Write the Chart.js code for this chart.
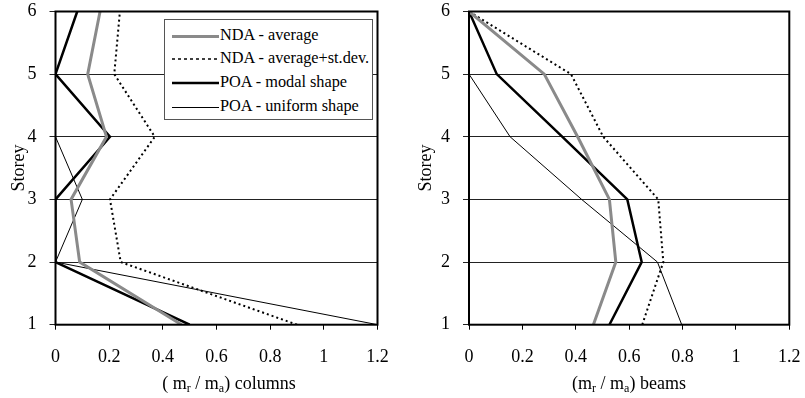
<!DOCTYPE html>
<html><head><meta charset="utf-8">
<script src="https://cdn.jsdelivr.net/npm/chart.js@4/dist/chart.umd.min.js"></script>
<style>
body{margin:0;width:805px;height:398px;position:relative;background:#fff;overflow:hidden;font-family:"Liberation Serif","Times New Roman",serif;color:#000;}
.wrap{position:absolute;top:0;height:398px;}
.xt{position:absolute;top:373px;font-size:18px;white-space:nowrap;transform:translateX(-50%);line-height:20px;}
.xt sub{font-size:12px;vertical-align:-3px;line-height:0;}
#legend{position:absolute;left:164px;top:19px;width:207px;height:99px;border:1px solid #555;background:#fff;font-size:16.3px;}
.row{position:absolute;left:7px;height:20px;line-height:20px;white-space:nowrap;}
.row svg{vertical-align:middle;margin-right:1px;}
</style></head>
<body>
<div class="wrap" style="left:0;width:400px"><canvas id="c1" width="400" height="398"></canvas></div>
<div class="wrap" style="left:400px;width:405px"><canvas id="c2" width="405" height="398"></canvas></div>
<div class="xt" style="left:229px">( m<sub>r</sub> / m<sub>a</sub>) columns</div>
<div class="xt" style="left:629px">(m<sub>r</sub> / m<sub>a</sub>) beams</div>
<div id="legend"></div>
<script>
// Storey levels
const storeys = [1, 2, 3, 4, 5, 6];
const seriesNames = ["NDA - average", "NDA - average+st.dev.", "POA - modal shape", "POA - uniform shape"];
// Columns (left chart), values per storey 1..6
const colNdaAvg = [0.47, 0.09, 0.058, 0.19, 0.12, 0.166];
const colNdaAvgStd = [0.90, 0.243, 0.203, 0.37, 0.219, 0.24];
const colPoaModal = [0.50, 0, 0, 0.203, 0, 0.081];
const colPoaUniform = [1.2, 0, 0.10, 0, 0, 0];
// Beams (right chart), values per storey 1..6
const beamNdaAvg = [0.466, 0.55, 0.526, 0.407, 0.282, 0];
const beamNdaAvgStd = [0.649, 0.728, 0.709, 0.503, 0.382, 0];
const beamPoaModal = [0.526, 0.647, 0.593, 0.35, 0.104, 0];
const beamPoaUniform = [0.797, 0.706, 0.422, 0.154, 0, 0];
const xTicks = [0, 0.2, 0.4, 0.6, 0.8, 1, 1.2];

const styles = [
  {borderColor:'#8a8a8a', borderWidth:3, borderDash:[]},
  {borderColor:'#000', borderWidth:2, borderDash:[2,3]},
  {borderColor:'#000', borderWidth:2.5, borderDash:[]},
  {borderColor:'#000', borderWidth:1, borderDash:[]}
];
const FONT = '"Liberation Serif","Times New Roman",serif';

function ds(vals, i){
  return Object.assign({
    label: seriesNames[i],
    data: storeys.map((s,k)=>({x: vals[k], y: s})),
    pointRadius:0, tension:0, fill:false
  }, styles[i]);
}

const frame = {
  id:'frame',
  afterDraw(chart){
    const a = chart.chartArea, c = chart.ctx;
    c.save(); c.strokeStyle='#000'; c.lineWidth=2;
    c.strokeRect(a.left, a.top, a.right-a.left, a.bottom-a.top);
    c.restore();
  }
};

function make(id, sets, yWidth, rightPad, titlePad){
  return new Chart(document.getElementById(id), {
    type:'line',
    data:{datasets: sets.map((v,i)=>ds(v,i))},
    options:{
      responsive:false, animation:false,
      layout:{padding:{top:11.5, right:rightPad, left:0, bottom:0}},
      plugins:{legend:{display:false}, tooltip:{enabled:false}},
      scales:{
        x:{type:'linear', min:0, max:1.2,
          afterBuildTicks: s => { s.ticks = xTicks.map(v=>({value:v})); },
          afterFit: s => { s.height = 73.3; s.paddingLeft = 0; s.paddingRight = 0; },
          grid:{drawOnChartArea:false, tickLength:5, color:'#000', lineWidth:1},
          border:{display:false},
          ticks:{color:'#000', font:{family:FONT, size:18}, padding:17, maxRotation:0,
            callback: v => String(Math.round(v*10)/10)}
        },
        y:{type:'linear', min:1, max:6,
          afterBuildTicks: s => { s.ticks = storeys.map(v=>({value:v})); },
          afterFit: s => { s.width = yWidth; s.paddingTop = 0; s.paddingBottom = 0; },
          grid:{drawOnChartArea:true, tickLength:6, color:'#222', lineWidth:1},
          border:{display:false},
          ticks:{color:'#000', font:{family:FONT, size:18}, padding:13},
          title:{display:true, text:'Storey', color:'#000', font:{family:FONT, size:18}, padding:{top:titlePad, bottom:0}}
        }
      }
    },
    plugins:[frame]
  });
}

make('c1', [colNdaAvg, colNdaAvgStd, colPoaModal, colPoaUniform], 55.5, 22.5, 8);
make('c2', [beamNdaAvg, beamNdaAvgStd, beamPoaModal, beamPoaUniform], 69, 15.7, 15);

// legend
const lg = document.getElementById('legend');
const rowTops = [5, 28, 52, 76];
seriesNames.forEach((n,i)=>{
  const st = styles[i];
  const r = document.createElement('div');
  r.className='row'; r.style.top = rowTops[i]+'px';
  const yy = st.borderWidth % 2 === 1 ? 4.5 : 4;
  r.innerHTML = `<svg width="47" height="9"><line x1="0" y1="${yy}" x2="47" y2="${yy}" stroke="${st.borderColor}" stroke-width="${i===1?1.3:st.borderWidth}" ${i===1?'stroke-dasharray="3,3"':''}/></svg>` + n;
  lg.appendChild(r);
});
</script>
</body></html>
